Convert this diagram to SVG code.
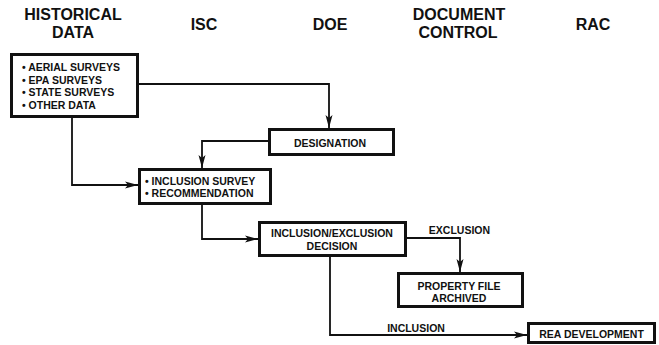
<svg xmlns="http://www.w3.org/2000/svg" width="659" height="345" viewBox="0 0 659 345">
<style>
.hdr{font-family:"Liberation Sans",Arial,sans-serif;font-weight:bold;font-size:16px;fill:#111;text-anchor:middle}
.box{fill:#fff;stroke:#111;stroke-width:3}
.t{font-family:"Liberation Sans",Arial,sans-serif;font-weight:bold;font-size:10.5px;fill:#111}
.tc{font-family:"Liberation Sans",Arial,sans-serif;font-weight:bold;font-size:10.5px;fill:#111;text-anchor:middle}
.c{fill:none;stroke:#111;stroke-width:1.8}
</style>
<defs>
<marker id="ah" markerUnits="userSpaceOnUse" markerWidth="14" markerHeight="8" refX="13" refY="4" orient="auto">
<path d="M0,0.5 L13,4 L0,7.5 L3,4 z" fill="#111"/>
</marker>
</defs>
<rect width="659" height="345" fill="#fff"/>
<g id="headers">
<text class="hdr" x="73" y="20">HISTORICAL</text>
<text class="hdr" x="73" y="38">DATA</text>
<text class="hdr" x="204" y="30">ISC</text>
<text class="hdr" x="330" y="30">DOE</text>
<text class="hdr" x="459" y="20">DOCUMENT</text>
<text class="hdr" x="458" y="38">CONTROL</text>
<text class="hdr" x="593" y="30">RAC</text>
</g>
<g id="connectors">
<path class="c" d="M139,84 H329 V128" marker-end="url(#ah)"/>
<path class="c" d="M268,141 H202 V168" marker-end="url(#ah)"/>
<path class="c" d="M72,118 V185 H138" marker-end="url(#ah)"/>
<path class="c" d="M202,205 V239 H258" marker-end="url(#ah)"/>
<path class="c" d="M407,238 H460 V272" marker-end="url(#ah)"/>
<path class="c" d="M330,257 V335 H527" marker-end="url(#ah)"/>
<text class="tc" x="459.5" y="234">EXCLUSION</text>
<text class="tc" x="416" y="332">INCLUSION</text>
</g>
<g id="historical-data">
<rect class="box" x="11.5" y="54.5" width="126" height="62"/>
<text class="t" x="22" y="71">• AERIAL SURVEYS</text>
<text class="t" x="22" y="83.5">• EPA SURVEYS</text>
<text class="t" x="22" y="96">• STATE SURVEYS</text>
<text class="t" x="22" y="108.5">• OTHER DATA</text>
</g>
<g id="designation">
<rect class="box" x="269.5" y="129.5" width="124" height="25"/>
<text class="tc" x="330" y="147">DESIGNATION</text>
</g>
<g id="inclusion-survey">
<rect class="box" x="139.5" y="169.5" width="131" height="34"/>
<text class="t" x="145" y="185">• INCLUSION SURVEY</text>
<text class="t" x="145" y="197">• RECOMMENDATION</text>
</g>
<g id="decision">
<rect class="box" x="259.5" y="222.5" width="146" height="33"/>
<text class="tc" x="332" y="237">INCLUSION/EXCLUSION</text>
<text class="tc" x="332" y="250">DECISION</text>
</g>
<g id="property-file">
<rect class="box" x="398.5" y="273.5" width="124" height="33"/>
<text class="tc" x="459" y="290">PROPERTY FILE</text>
<text class="tc" x="459" y="302">ARCHIVED</text>
</g>
<g id="rea-development">
<rect class="box" x="528.5" y="323.5" width="126" height="19"/>
<text class="tc" x="591.5" y="338">REA DEVELOPMENT</text>
</g>
</svg>
